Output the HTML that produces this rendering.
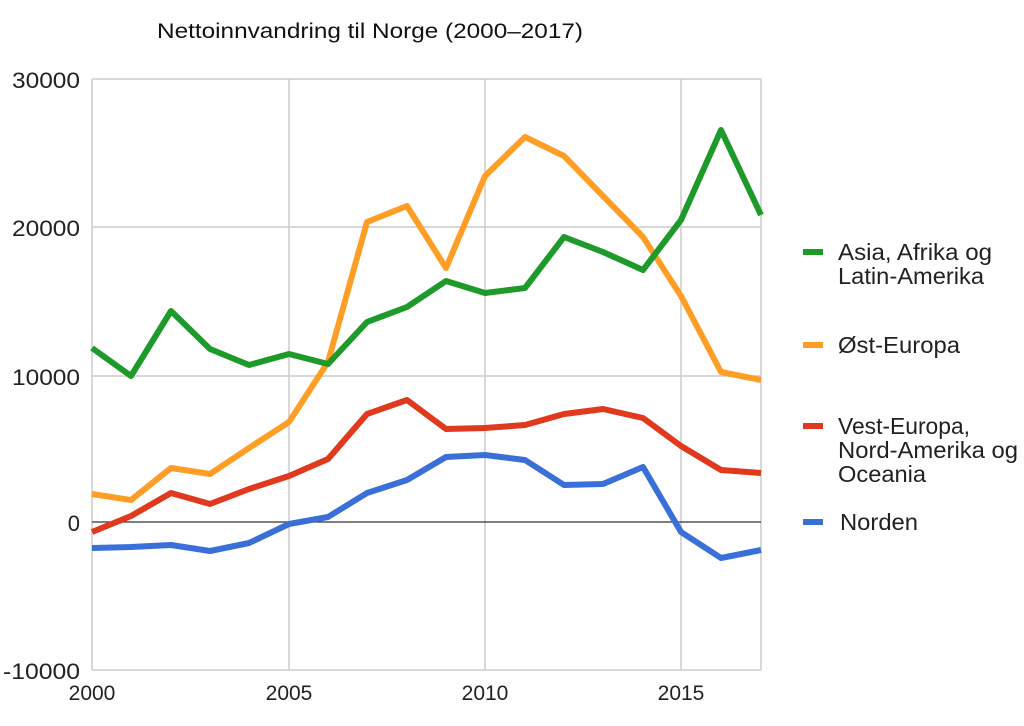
<!DOCTYPE html>
<html><head><meta charset="utf-8"><style>
html,body{margin:0;padding:0;background:#fff;}
svg{display:block;font-family:"Liberation Sans",sans-serif;}
</style></head><body>
<svg width="1024" height="726" viewBox="0 0 1024 726">
<text x="157" y="38" font-size="21" fill="#111" textLength="426" lengthAdjust="spacingAndGlyphs">Nettoinnvandring til Norge (2000–2017)</text>
<g stroke="#ccc" stroke-width="1.5">
<line x1="92" y1="79" x2="761" y2="79"/>
<line x1="92" y1="227" x2="761" y2="227"/>
<line x1="92" y1="376" x2="761" y2="376"/>
<line x1="92" y1="670" x2="761" y2="670"/>
<line x1="92" y1="79" x2="92" y2="670"/>
<line x1="289" y1="79" x2="289" y2="670"/>
<line x1="485" y1="79" x2="485" y2="670"/>
<line x1="681" y1="79" x2="681" y2="670"/>
<line x1="761" y1="79" x2="761" y2="670"/>
</g>
<line x1="92" y1="522" x2="761" y2="522" stroke="#333" stroke-width="1.2"/>
<g font-size="22" fill="#222" text-anchor="end">
<text x="80" y="88" textLength="68" lengthAdjust="spacingAndGlyphs">30000</text>
<text x="80" y="236" textLength="68" lengthAdjust="spacingAndGlyphs">20000</text>
<text x="80" y="385" textLength="68" lengthAdjust="spacingAndGlyphs">10000</text>
<text x="80" y="531">0</text>
<text x="80" y="679" textLength="77" lengthAdjust="spacingAndGlyphs">-10000</text>
</g>
<g font-size="21" fill="#222" text-anchor="middle">
<text x="92" y="700">2000</text>
<text x="289" y="700">2005</text>
<text x="485" y="700">2010</text>
<text x="681" y="700">2015</text>
</g>
<g fill="none" stroke-width="6" stroke-linejoin="round">
<polyline stroke="#3a6fd8" points="92,548 131,547 171,545 210,551 249,543 289,524 328,517 367,493 407,480 446,457 485,455 525,460 564,485 603,484 643,467 681,532 721,558 761,550"/>
<polyline stroke="#e0391e" points="92,532 131,516 171,493 210,504 249,489 289,476 328,459 367,414 407,400 446,429 485,428 525,425 564,414 603,409 643,418 681,446 721,470 761,473"/>
<polyline stroke="#ff9e27" points="92,494 131,500 171,468 210,474 249,448 289,422 328,362 367,222 407,206 446,268 485,176 525,137 564,156 603,196 643,237 681,296 721,372 761,380"/>
<polyline stroke="#1e9a2a" points="92,348 131,376 171,311 210,349 249,365 289,354 328,364 367,322 407,307 446,281 485,293 525,288 564,237 603,252 643,270 681,220 721,130 761,215"/>
</g>
<g stroke-width="6">
<line x1="803" y1="252" x2="823" y2="252" stroke="#1e9a2a"/>
<line x1="803" y1="345" x2="823" y2="345" stroke="#ff9e27"/>
<line x1="803" y1="426" x2="823" y2="426" stroke="#e0391e"/>
<line x1="803" y1="522" x2="823" y2="522" stroke="#3a6fd8"/>
</g>
<g font-size="23" fill="#222">
<text x="838" y="260" textLength="154" lengthAdjust="spacingAndGlyphs">Asia, Afrika og</text>
<text x="838" y="284" textLength="146" lengthAdjust="spacingAndGlyphs">Latin-Amerika</text>
<text x="838" y="353" textLength="122" lengthAdjust="spacingAndGlyphs">Øst-Europa</text>
<text x="838" y="434" textLength="132" lengthAdjust="spacingAndGlyphs">Vest-Europa,</text>
<text x="838" y="458" textLength="180" lengthAdjust="spacingAndGlyphs">Nord-Amerika og</text>
<text x="838" y="482" textLength="88" lengthAdjust="spacingAndGlyphs">Oceania</text>
<text x="840" y="530" textLength="78" lengthAdjust="spacingAndGlyphs">Norden</text>
</g>
</svg>
</body></html>
